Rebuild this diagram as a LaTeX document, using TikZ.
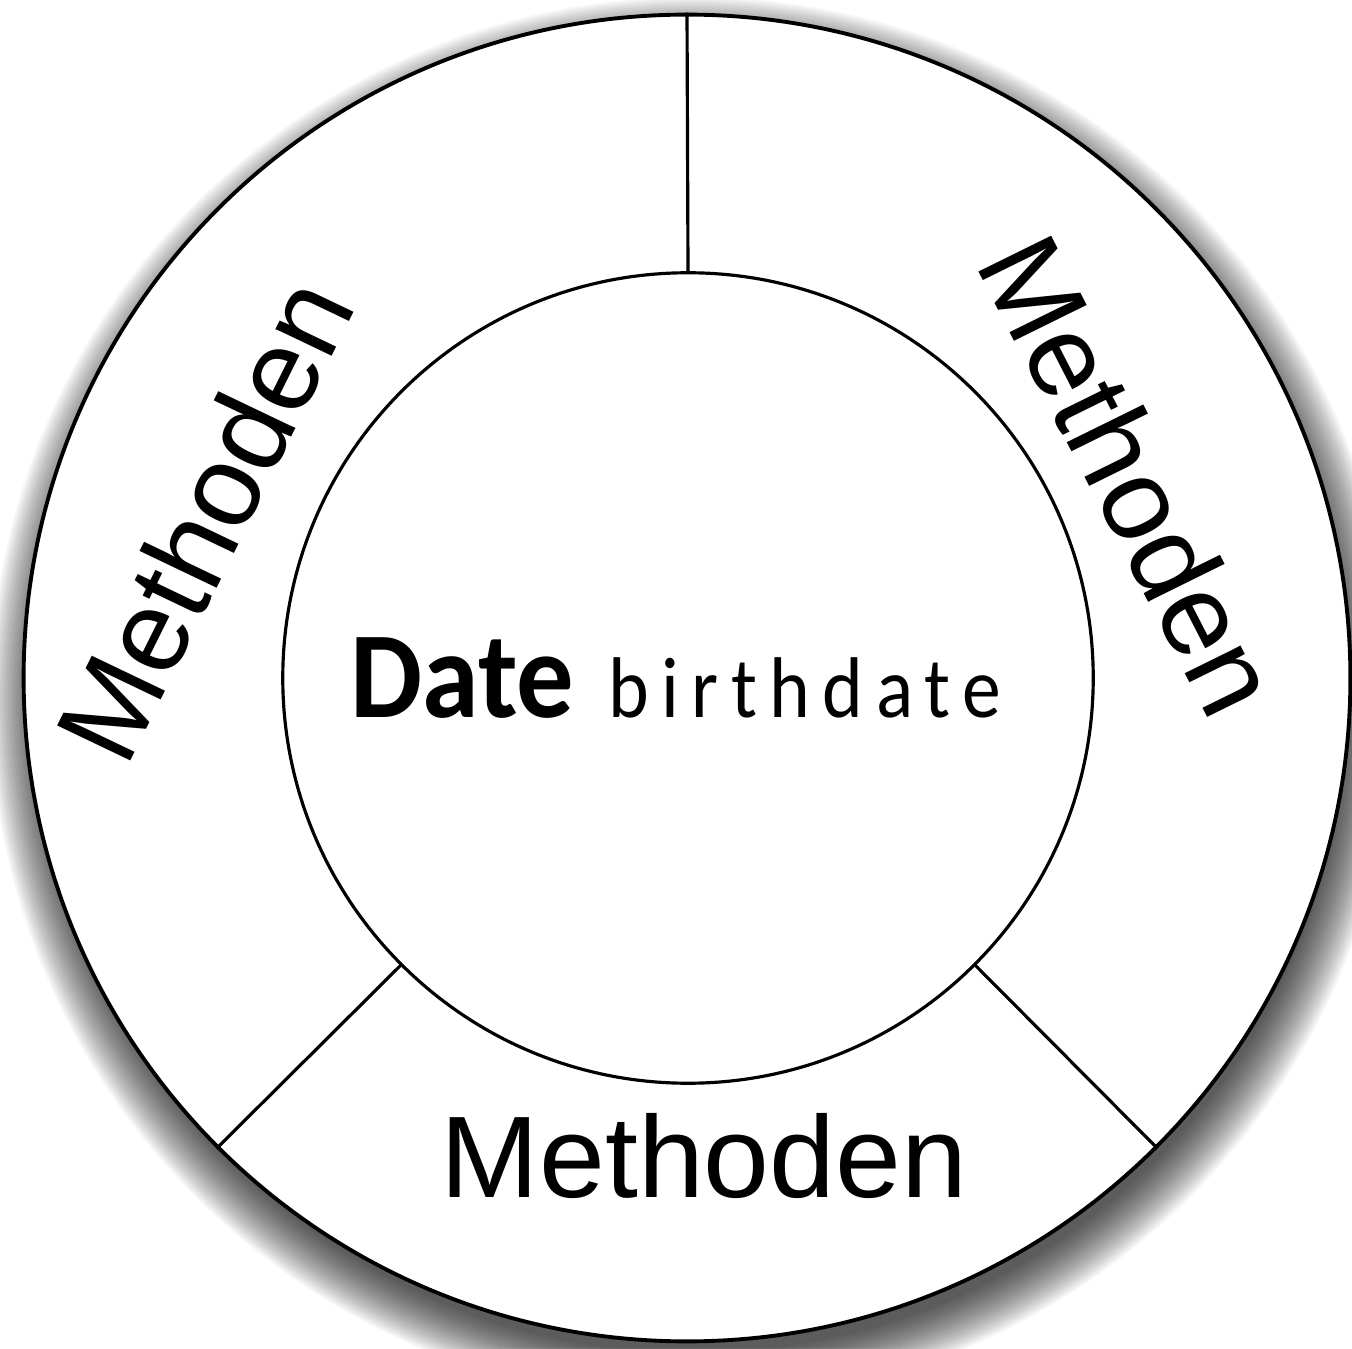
\documentclass[tikz,border=0pt]{standalone}
\usepackage{fontspec}
\setmainfont{Liberation Sans}
\newfontfamily\datefont{Carlito}
\begin{document}
\begin{tikzpicture}[x=0.01cm,y=0.01cm,
  ring/.style={circle,draw=black,line width=1.1pt,fill=white,inner sep=0pt},
  divider/.style={line width=0.9pt},
  meth/.style={inner sep=0pt,font=\fontsize{33}{40}\selectfont,xscale=1.02}]
\useasboundingbox (0,0) rectangle (1352,1348);
\fill[white] (0,0) rectangle (1352,1348);
\begin{scope}
\clip (0,0) rectangle (1352,1348);
\foreach \r in {-10,-8,...,40} \fill[black,opacity=0.035] (693,648) circle (663+\r);
\end{scope}
\node[ring,minimum size=13.26cm] (outer) at (687,670) {};
\node[ring,line width=0.9pt,minimum size=8.10cm] (inner) at (688,670) {};
\draw[divider] (inner.90) -- (outer.90);
\draw[divider] (inner.225) -- (outer.225);
\draw[divider] (inner.315) -- (outer.315);
\node[meth] (mb) at (704,192) {Methoden};
\node[meth,rotate=64] (ml) at (204,829) {Methoden};
\node[meth,rotate=-63.3] (mr) at (1131,873) {Methoden};
\node[anchor=base west,inner sep=0pt,xscale=0.93,font=\datefont\bfseries\fontsize{35}{40}\selectfont] (date) at (350,630) {Date};
\node[anchor=base west,inner sep=0pt,xscale=0.9,font=\datefont\fontsize{24.5}{28}\selectfont\addfontfeature{LetterSpace=16}] (bd) at (608,630) {birthdate};
\end{tikzpicture}
\end{document}
